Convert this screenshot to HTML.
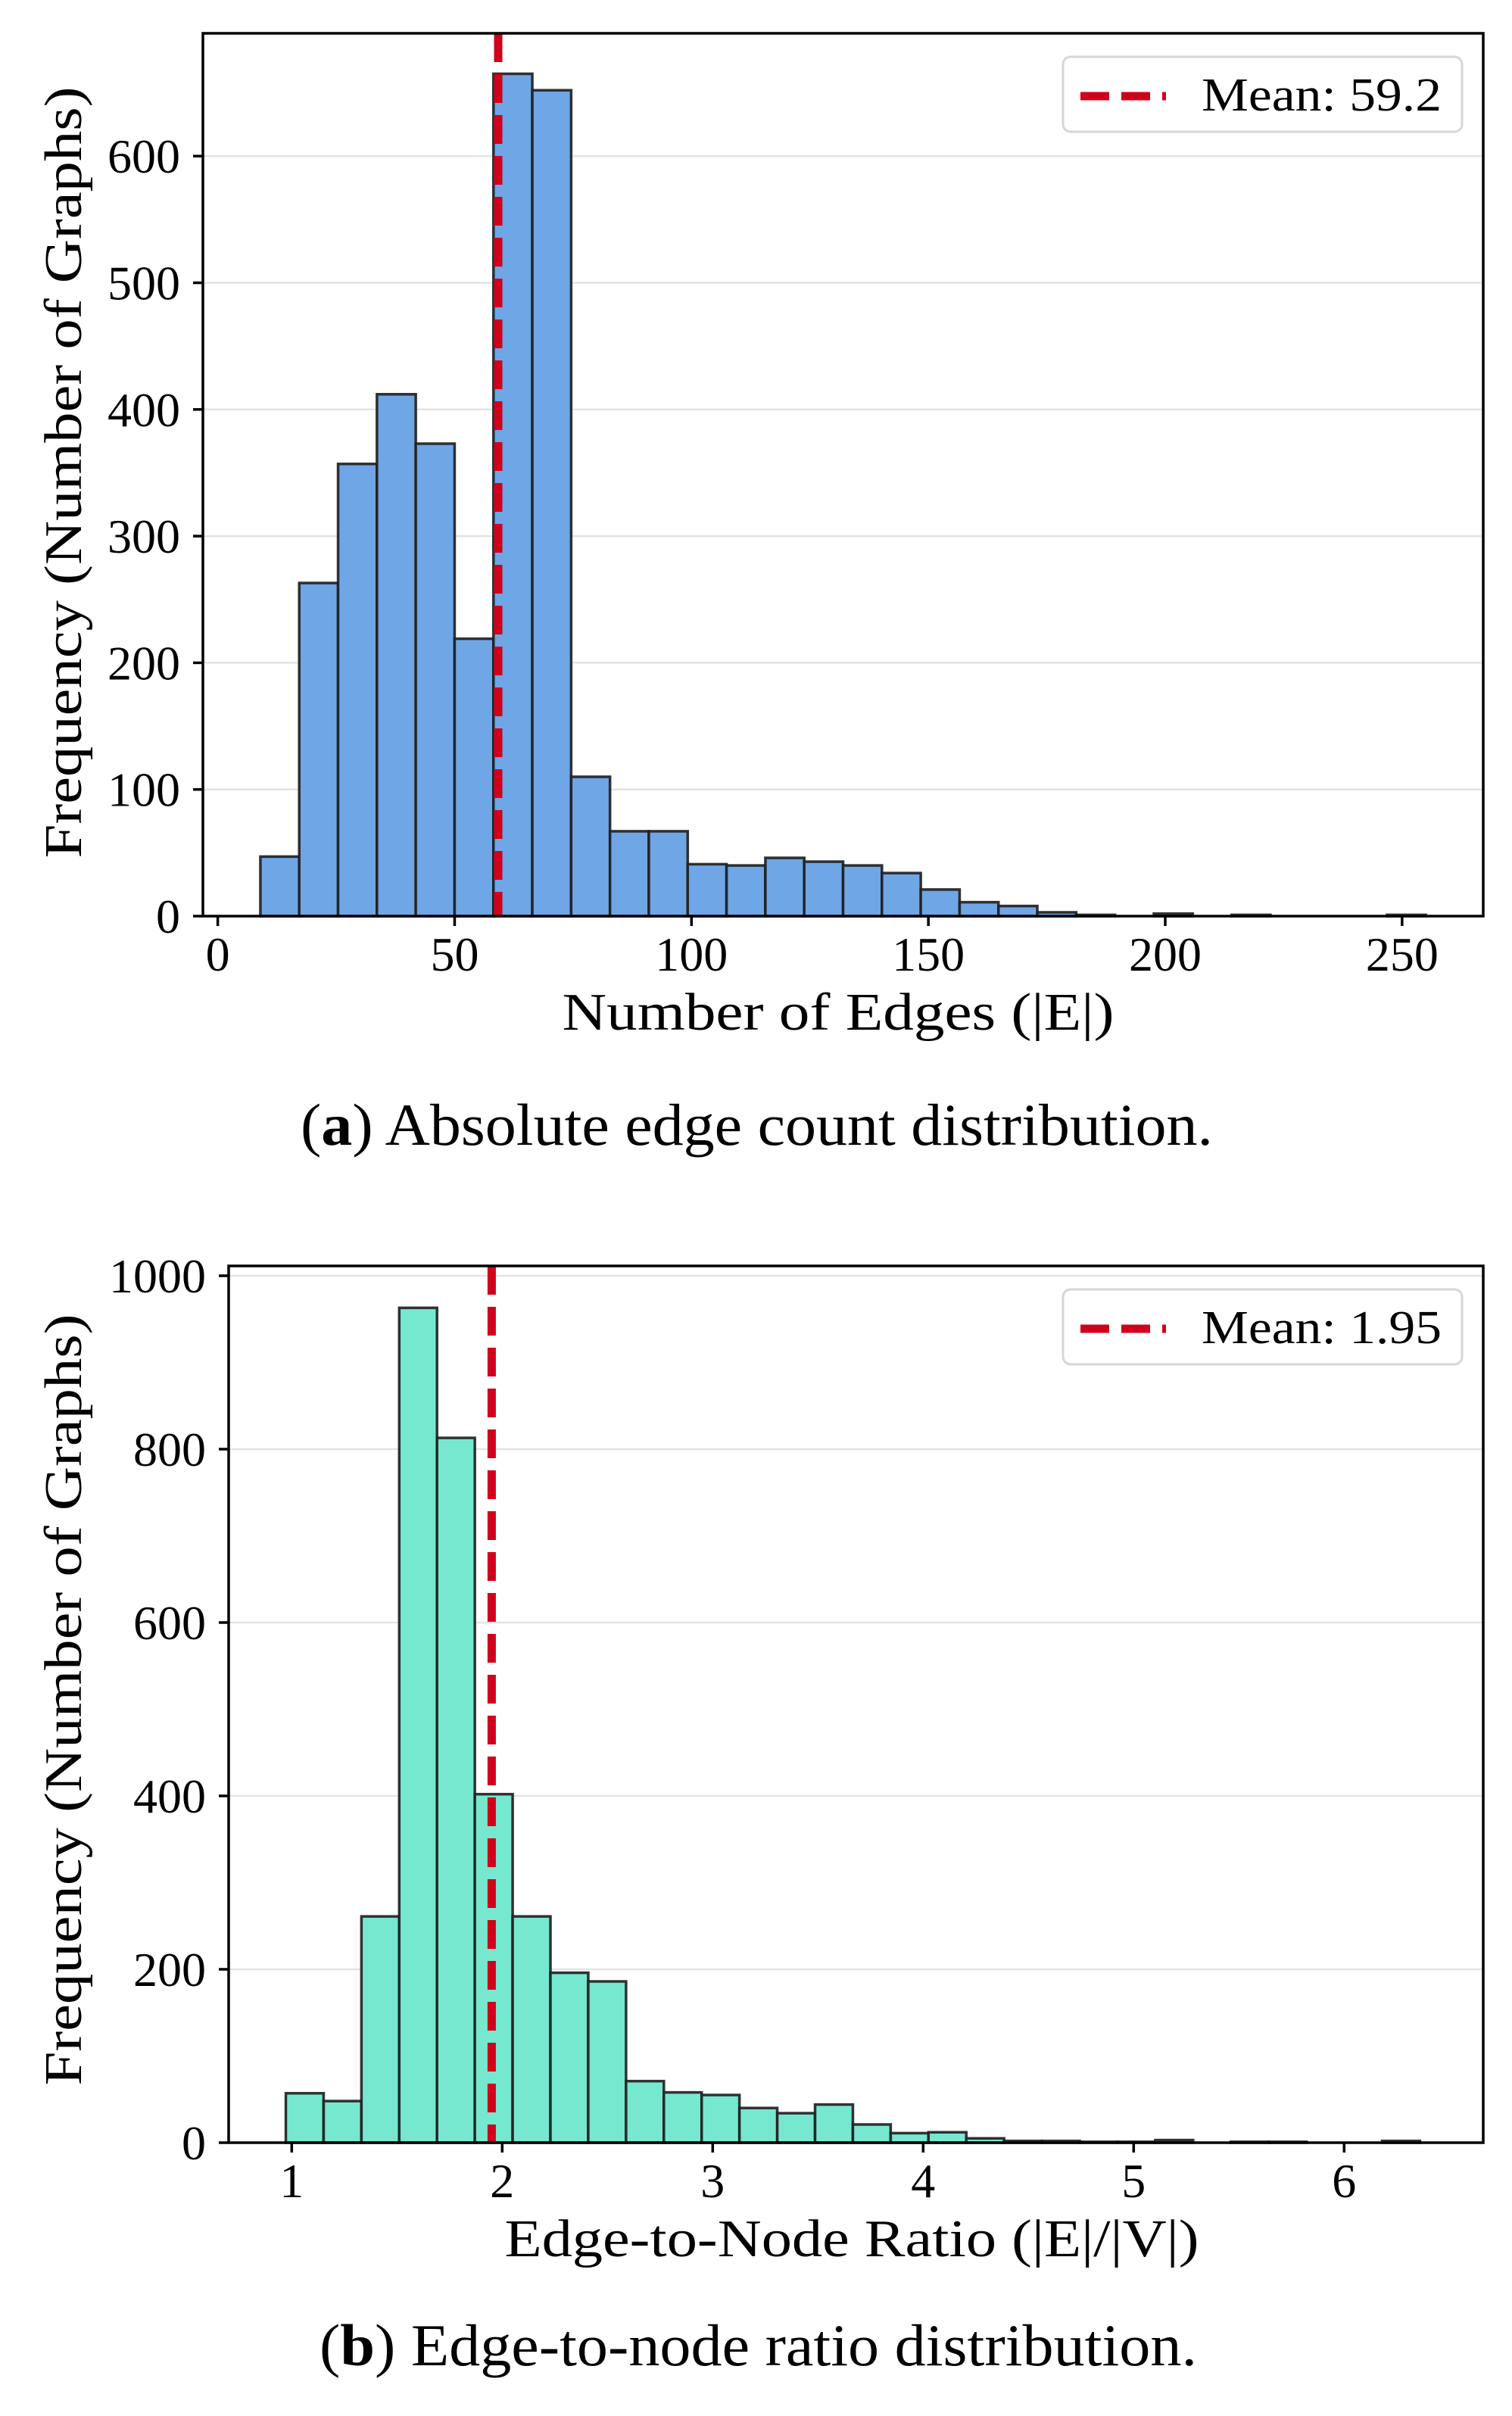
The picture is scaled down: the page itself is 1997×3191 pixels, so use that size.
<!DOCTYPE html>
<html><head><meta charset="utf-8"><style>
html,body{margin:0;padding:0;background:#fff;}
svg{display:block;font-family:"Liberation Serif",serif;}
</style></head><body>
<svg id="fig" width="1997" height="3191" viewBox="0 0 1997 3191" xmlns="http://www.w3.org/2000/svg"></svg>
<script>
// Chart A data
const aBinStart = 9.0;
const aBinWidth = 8.2;
const aCounts = [47,263,357,412,373,219,665,652,110,67,67,41,40,46,43,40,34,21,11,8,3,1,0,2,0,1,0,0,0,1];
const aMean = 59.2;
const aXTicks = [0,50,100,150,200,250];
const aYTicks = [0,100,200,300,400,500,600];
// Chart B data
const bBinStart = 0.972;
const bBinWidth = 0.1796;
const bCounts = [57,48,261,963,813,402,261,196,186,71,58,55,40,34,44,21,11,12,5,2,2,1,1,3,0,1,1,0,0,2];
const bMean = 1.95;
const bXTicks = [1,2,3,4,5,6];
const bYTicks = [0,200,400,600,800,1000];

const NS="http://www.w3.org/2000/svg";
const svg=document.getElementById('fig');
function mk(tag,attrs,parent,text){const e=document.createElementNS(NS,tag);for(const k in attrs)e.setAttribute(k,attrs[k]);if(text!==undefined)e.textContent=text;(parent||svg).appendChild(e);return e;}

function chart(o){
  const g=mk('g',{});
  
  
  const sx=v=>o.x0+(v-o.xv0)*o.xs;
  const sy=v=>o.bottom-v*o.ys;
  o.yTicks.forEach(t=>{
    if(t===0)return;
    const l=mk('line',{x1:o.left,x2:o.right,y1:sy(t),y2:sy(t),stroke:'#e3e3e3','stroke-width':2.5},g);
    
    
  });
  o.counts.forEach((c,i)=>{
    const x1=sx(o.binStart+i*o.binWidth), x2=sx(o.binStart+(i+1)*o.binWidth);
    const r=mk('rect',{x:x1,y:sy(c),width:x2-x1,height:o.bottom-sy(c),fill:o.color,stroke:'#1e1e1e','stroke-width':3.5,'stroke-opacity':0.9},g);
    
    
  });
  const ml=mk('line',{x1:sx(o.mean),x2:sx(o.mean),y1:o.top,y2:o.bottom,stroke:'#d0021b','stroke-width':11,'stroke-dasharray':'38 16'},g);
  
  
  const fr=mk('rect',{x:o.left,y:o.top,width:o.right-o.left,height:o.bottom-o.top,fill:'none',stroke:'#000','stroke-width':3.5},g);
  
  
  o.xTicks.forEach(t=>{
    mk('line',{x1:sx(t),x2:sx(t),y1:o.bottom,y2:o.bottom+13,stroke:'#000','stroke-width':3.5},g);
    const tx=mk('text',{x:sx(t),y:o.bottom+72,'text-anchor':'middle','font-size':64},g,String(t));
    
    
  });
  o.yTicks.forEach(t=>{
    mk('line',{x1:o.left-13,x2:o.left,y1:sy(t),y2:sy(t),stroke:'#000','stroke-width':3.5},g);
    const ty=mk('text',{x:o.left-30,y:sy(t)+22,'text-anchor':'end','font-size':64},g,String(t));
    
    
  });
  const xt=mk('text',{x:o.xlabX,y:o.bottom+150,'text-anchor':'middle','font-size':70,textLength:o.xlabW,lengthAdjust:'spacingAndGlyphs'},g,o.xlabel);
  
  
  const yt=mk('text',{x:0,y:0,'text-anchor':'middle','font-size':70,textLength:1019,lengthAdjust:'spacingAndGlyphs',transform:'translate(107,'+o.ylabY+') rotate(-90)'},g,'Frequency (Number of Graphs)');
  
  
  const lg=mk('g',{},g);
  
  
  const lt=o.top+31;
  mk('rect',{x:1404,y:lt,width:527,height:99,rx:10,fill:'#fff',stroke:'#d6d6d6','stroke-width':3},lg);
  const ls=mk('line',{x1:1427,x2:1540,y1:lt+52,y2:lt+52,stroke:'#d0021b','stroke-width':11,'stroke-dasharray':'38 16'},lg);
  
  
  const ltx=mk('text',{x:1587,y:lt+71,'font-size':62,textLength:317,lengthAdjust:'spacingAndGlyphs'},lg,'Mean: '+o.meanLabel);
  
  
  const cap=mk('text',{x:o.capX,y:o.capY,'font-size':78,textLength:o.capW,lengthAdjust:'spacingAndGlyphs'},svg);
  
  
  mk('tspan',{},cap,'(');
  mk('tspan',{'font-weight':'bold'},cap,o.capLetter);
  mk('tspan',{},cap,') '+o.capText);
}

chart({name:'chart-edge-count',left:268,right:1959,top:44,bottom:1210,x0:287.6,xv0:0,xs:6.257,ys:1.673,
  binStart:aBinStart,binWidth:aBinWidth,counts:aCounts,mean:aMean,meanLabel:aMean.toFixed(1),xTicks:aXTicks,yTicks:aYTicks,
  color:'#6fa6e6',xlabel:'Number of Edges (|E|)',xlabX:1107,xlabW:729,ylabY:624,
  capX:397,capY:1512,capW:1205,capLetter:'a',capText:'Absolute edge count distribution.'});
chart({name:'chart-edge-node-ratio',left:302,right:1959,top:1672,bottom:2830,x0:385.3,xv0:1,xs:278,ys:1.145,
  binStart:bBinStart,binWidth:bBinWidth,counts:bCounts,mean:bMean,meanLabel:bMean.toFixed(2),xTicks:bXTicks,yTicks:bYTicks,
  color:'#76e8d0',xlabel:'Edge-to-Node Ratio (|E|/|V|)',xlabX:1125,xlabW:917,ylabY:2245,
  capX:422,capY:3124,capW:1159,capLetter:'b',capText:'Edge-to-node ratio distribution.'});
</script>
</body></html>
